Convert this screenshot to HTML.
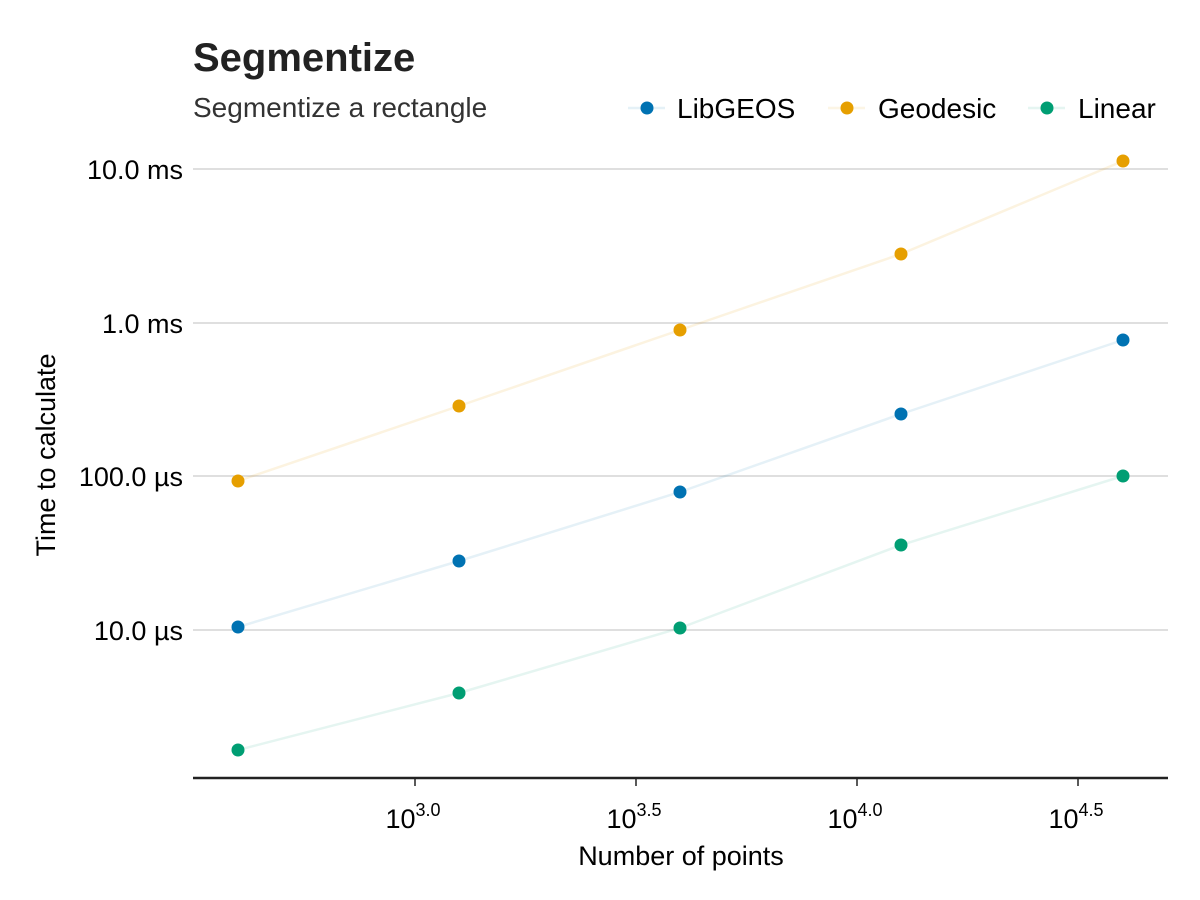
<!DOCTYPE html>
<html><head><meta charset="utf-8"><style>body{margin:0;background:#fff}svg{display:block}text{font-family:"Liberation Sans",sans-serif;fill:#000}</style></head><body>
<svg width="1200" height="900" xmlns="http://www.w3.org/2000/svg">
<text x="193" y="71" font-size="40" font-weight="bold" style="fill:#222">Segmentize</text>
<text x="193" y="117" font-size="28" style="fill:#333">Segmentize a rectangle</text>
<g stroke="#ccc" stroke-width="1.2">
<line x1="193" x2="1168" y1="169" y2="169"/><line x1="193" x2="1168" y1="323" y2="323"/>
<line x1="193" x2="1168" y1="476" y2="476"/><line x1="193" x2="1168" y1="630" y2="630"/>
</g>
<line x1="193" x2="1168" y1="778" y2="778" stroke="#222" stroke-width="2.5"/>
<g font-size="27" text-anchor="end">
<text x="183" y="179">10.0 ms</text><text x="183" y="333">1.0 ms</text>
<text x="183" y="486">100.0 µs</text><text x="183" y="640">10.0 µs</text>
</g>
<g stroke="#222" stroke-width="1.5"><line x1="415" x2="415" y1="778" y2="786"/><line x1="636" x2="636" y1="778" y2="786"/><line x1="857" x2="857" y1="778" y2="786"/><line x1="1078" x2="1078" y1="778" y2="786"/></g>
<g font-size="27" text-anchor="middle">
<text x="413" y="828">10<tspan font-size="18" dy="-12">3.0</tspan></text>
<text x="634" y="828">10<tspan font-size="18" dy="-12">3.5</tspan></text>
<text x="855" y="828">10<tspan font-size="18" dy="-12">4.0</tspan></text>
<text x="1076" y="828">10<tspan font-size="18" dy="-12">4.5</tspan></text>
<text x="681" y="865">Number of points</text>
<text transform="translate(55,455) rotate(-90)">Time to calculate</text>
</g>
<polyline points="238,481 459,406 680,330 901,254 1123,161" fill="none" stroke="#E69F00" stroke-opacity="0.12" stroke-width="2.5"/>
<polyline points="238,627 459,561 680,492 901,414 1123,340" fill="none" stroke="#0072B2" stroke-opacity="0.1" stroke-width="2.5"/>
<polyline points="238,750 459,693 680,628 901,545 1123,476" fill="none" stroke="#009E73" stroke-opacity="0.1" stroke-width="2.5"/>
<g fill="#E69F00"><circle cx="238" cy="481" r="6.5"/><circle cx="459" cy="406" r="6.5"/><circle cx="680" cy="330" r="6.5"/><circle cx="901" cy="254" r="6.5"/><circle cx="1123" cy="161" r="6.5"/></g>
<g fill="#0072B2"><circle cx="238" cy="627" r="6.5"/><circle cx="459" cy="561" r="6.5"/><circle cx="680" cy="492" r="6.5"/><circle cx="901" cy="414" r="6.5"/><circle cx="1123" cy="340" r="6.5"/></g>
<g fill="#009E73"><circle cx="238" cy="750" r="6.5"/><circle cx="459" cy="693" r="6.5"/><circle cx="680" cy="628" r="6.5"/><circle cx="901" cy="545" r="6.5"/><circle cx="1123" cy="476" r="6.5"/></g>
<g stroke-width="2.5" stroke-opacity="0.1">
<line x1="628" x2="665" y1="108" y2="108" stroke="#0072B2"/>
<line x1="828" x2="865" y1="108" y2="108" stroke="#E69F00"/>
<line x1="1028" x2="1065" y1="108" y2="108" stroke="#009E73"/>
</g>
<circle cx="647" cy="108" r="6.5" fill="#0072B2"/><circle cx="847" cy="108" r="6.5" fill="#E69F00"/><circle cx="1047" cy="108" r="6.5" fill="#009E73"/>
<g font-size="28"><text x="677" y="118">LibGEOS</text><text x="878" y="118">Geodesic</text><text x="1078" y="118">Linear</text></g>
</svg>
</body></html>
